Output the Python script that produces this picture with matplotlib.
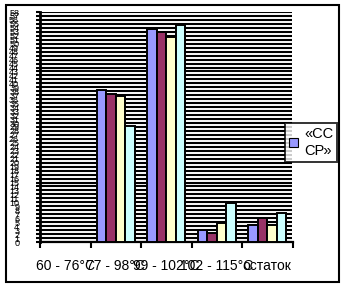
import matplotlib
matplotlib.use("Agg")
import matplotlib.pyplot as plt
import numpy as np
from matplotlib.patches import Patch, Rectangle

plt.rcParams["font.family"] = ["Liberation Sans", "DejaVu Sans"]

# temperature fractions (x categories)
categories = ["60 - 76°С", "77 - 98°С", "99 - 102°С", "102 - 115°С", "остаток"]

# four series, values in %
series_a = [0, 38.3, 53.7, 3.1, 4.4]
series_b = [0, 37.4, 52.9, 2.2, 6.1]
series_c = [0, 36.7, 51.8, 4.9, 4.4]
series_d = [0, 29.3, 54.6, 9.8, 7.2]
series = [series_a, series_b, series_c, series_d]
colors = ["#9999FF", "#993366", "#FFFFCC", "#CCFFFF"]
legend_label = "«СС\nСР»"

y_max = 58

fig = plt.figure(figsize=(3.43, 2.88), dpi=100)
ax = fig.add_axes([40 / 343, 1 - 242 / 288, 252.5 / 343, 230 / 288])

x = np.arange(len(categories))
bar_w = 0.186
for i, (vals, col) in enumerate(zip(series, colors)):
    ax.bar(x + (i - 1.5) * bar_w, vals, width=bar_w, color=col,
           edgecolor="black", linewidth=1.4, zorder=3)

ax.set_xlim(-0.5, len(categories) - 0.5)
ax.set_ylim(0, y_max)

# dense horizontal grid at every unit, labels overlap like in the original
ax.set_yticks(np.arange(0, y_max + 1, 1))
ax.set_yticklabels([str(v) for v in range(0, y_max + 1)], fontsize=6.5)
ax.yaxis.grid(True, color="black", linewidth=1.5, zorder=0)
ax.tick_params(axis="y", length=3, width=1.5, pad=12)

ax.set_xticks(x)
ax.set_xticklabels(categories, fontsize=10)
ax.set_xticks(np.arange(-0.5, len(categories), 1), minor=True)
ax.tick_params(axis="x", which="major", length=0, pad=12)
ax.tick_params(axis="x", which="minor", length=4, width=1.5)

for side in ["top", "right"]:
    ax.spines[side].set_visible(False)
ax.spines["left"].set_linewidth(2)
ax.spines["bottom"].set_linewidth(1.6)

leg = fig.legend(handles=[Patch(facecolor=colors[0], edgecolor="black", linewidth=0.8)],
                 labels=[legend_label], loc="upper left",
                 bbox_to_anchor=(285 / 343, 1 - 123 / 288), fontsize=10.5,
                 frameon=True, fancybox=False, borderpad=0.3,
                 handlelength=0.6, handleheight=0.6, handletextpad=0.4,
                 borderaxespad=0)
leg.get_frame().set_edgecolor("black")
leg.get_frame().set_linewidth(1.4)
leg.set_zorder(6)

# mask everything right of the chart frame, then draw the frame
fig.patches.append(Rectangle((339 / 343, 0), 1, 1, transform=fig.transFigure,
                             facecolor="white", edgecolor="none", zorder=10))
fig.patches.append(Rectangle((6 / 343, 6 / 288), 333 / 343, 277 / 288,
                             transform=fig.transFigure, fill=False,
                             edgecolor="black", linewidth=1.5, zorder=11))

fig.savefig("out.png", dpi=100)
